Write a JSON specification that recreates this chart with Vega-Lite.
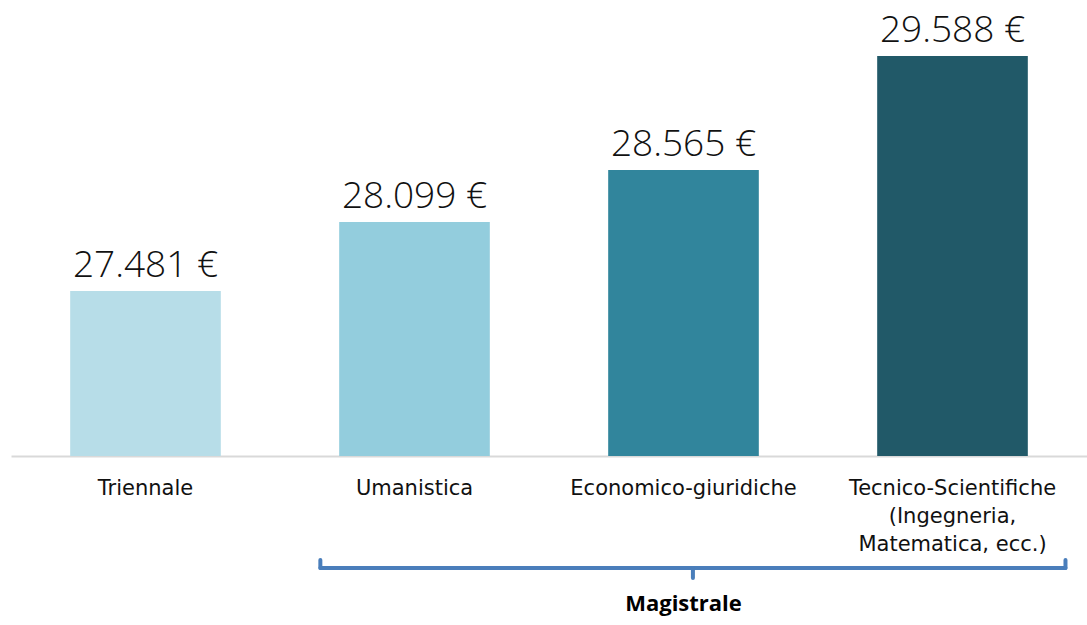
{
  "$schema": "https://vega.github.io/schema/vega-lite/v6.json",
  "padding": {"left": 11, "top": 0, "right": 0, "bottom": 0},
  "spacing": 0,
  "config": {"view": {"stroke": null}, "font": "Open Sans"},
  "resolve": {"scale": {"x": "independent", "y": "independent"}},
  "vconcat": [
    {
      "width": 1076,
      "height": 456,
      "data": {"values": [
        {"cat": "Triennale", "value": 27481, "label": "27.481 €"},
        {"cat": "Umanistica", "value": 28099, "label": "28.099 €"},
        {"cat": "Economico-giuridiche", "value": 28565, "label": "28.565 €"},
        {"cat": "Tecnico-Scientifiche|(Ingegneria,|Matematica, ecc.)", "value": 29588, "label": "29.588 €"}
      ]},
      "encoding": {
        "x": {
          "field": "cat", "type": "nominal", "sort": null,
          "scale": {"paddingInner": 0.44, "paddingOuter": 0.22},
          "axis": {
            "title": null, "labelAngle": 0, "ticks": false,
            "domainColor": "#d9d9d9", "domainWidth": 2,
            "labelFont": "DejaVu Sans", "labelFontSize": 21, "labelColor": "#111111",
            "labelPadding": 21, "labelLineHeight": 28, "labelLimit": 0,
            "labelExpr": "split(datum.label, '|')"
          }
        }
      },
      "layer": [
        {
          "mark": {"type": "bar"},
          "encoding": {
            "y": {"field": "value", "type": "quantitative", "scale": {"domain": [26000, 30090], "zero": false, "nice": false}, "axis": null},
            "y2": {"datum": 26000},
            "color": {
              "field": "cat", "type": "nominal", "sort": null, "legend": null,
              "scale": {"range": ["#B7DDE8", "#93CDDD", "#31859C", "#215968"]}
            }
          }
        },
        {
          "mark": {"type": "text", "baseline": "alphabetic", "dy": -14, "fontSize": 37, "fontWeight": 300, "font": "Open Sans", "color": "#111111"},
          "encoding": {
            "y": {"field": "value", "type": "quantitative"},
            "text": {"field": "label"}
          }
        }
      ]
    },
    {
      "width": 1076,
      "height": 64,
      "layer": [
        {
          "data": {"values": [
            {"x": 1.15, "x2": 1.15, "y": 6, "y2": 14},
            {"x": 1.15, "x2": 3.92, "y": 14, "y2": 14},
            {"x": 3.92, "x2": 3.92, "y": 6, "y2": 14},
            {"x": 2.535, "x2": 2.535, "y": 14, "y2": 24}
          ]},
          "mark": {"type": "rule", "color": "#4A7EBB", "strokeWidth": 4, "strokeCap": "round"},
          "encoding": {
            "x": {"field": "x", "type": "quantitative", "scale": {"domain": [0, 4], "nice": false, "zero": false}, "axis": null},
            "x2": {"field": "x2"},
            "y": {"field": "y", "type": "quantitative", "scale": {"domain": [0, 64], "nice": false, "zero": false, "reverse": true}, "axis": null},
            "y2": {"field": "y2"}
          }
        },
        {
          "data": {"values": [{"x": 2.5, "y": 50, "t": "Magistrale"}]},
          "mark": {"type": "text", "fontSize": 22, "fontWeight": "bold", "font": "Open Sans", "color": "#000000", "baseline": "middle"},
          "encoding": {
            "x": {"field": "x", "type": "quantitative"},
            "y": {"field": "y", "type": "quantitative"},
            "text": {"field": "t"}
          }
        }
      ]
    }
  ]
}
